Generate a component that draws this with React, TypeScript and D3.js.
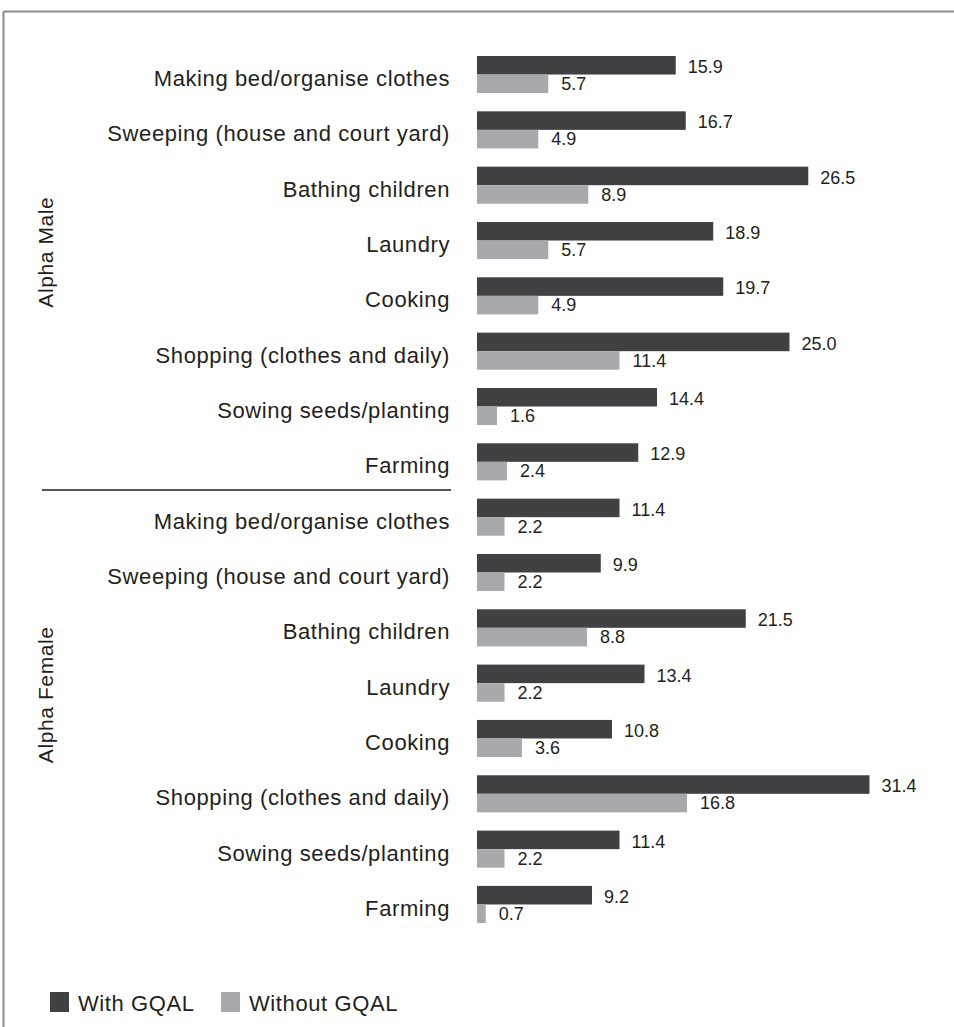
import React from "react";
import * as d3 from "d3";

const groups = ["Alpha Male", "Alpha Female"];
const activities = [
  "Making bed/organise clothes",
  "Sweeping (house and court yard)",
  "Bathing children",
  "Laundry",
  "Cooking",
  "Shopping (clothes and daily)",
  "Sowing seeds/planting",
  "Farming",
];
const maleWith = [15.9, 16.7, 26.5, 18.9, 19.7, 25.0, 14.4, 12.9];
const maleWithout = [5.7, 4.9, 8.9, 5.7, 4.9, 11.4, 1.6, 2.4];
const femaleWith = [11.4, 9.9, 21.5, 13.4, 10.8, 31.4, 11.4, 9.2];
const femaleWithout = [2.2, 2.2, 8.8, 2.2, 3.6, 16.8, 2.2, 0.7];
const seriesNames = ["With GQAL", "Without GQAL"];
const colors = ["#414042", "#a7a9ac"];

const W = 954;
const H = 1027;
const FONT = "'Liberation Sans', Arial, Helvetica, sans-serif";
const TXT = "#231f20";

type Row = { group: string; label: string; w: number; wo: number; key: string };
const rows: Row[] = [];
groups.forEach((g, gi) => {
  const wv = gi === 0 ? maleWith : femaleWith;
  const wov = gi === 0 ? maleWithout : femaleWithout;
  activities.forEach((a, i) => {
    rows.push({ group: g, label: a, w: wv[i], wo: wov[i], key: g + "|" + a });
  });
});

export default function App() {
  const y = d3
    .scaleBand<string>()
    .domain(rows.map((r) => r.key))
    .range([56, 923])
    .paddingInner(0.33)
    .paddingOuter(0);
  const inner = d3
    .scaleBand<string>()
    .domain(seriesNames)
    .range([0, y.bandwidth()])
    .padding(0);
  const x = d3.scaleLinear().domain([0, 35]).range([477, 477 + 437.5]);

  const groupExtent = (g: string) => {
    const rs = rows.filter((r) => r.group === g);
    const top = y(rs[0].key)!;
    const bot = y(rs[rs.length - 1].key)! + y.bandwidth();
    return [top, bot];
  };

  const sepY = (groupExtent(groups[0])[1] + groupExtent(groups[1])[0]) / 2 + 0.5;

  return (
    <svg
      width={W}
      height={H}
      style={{ position: "absolute", left: 0, top: 0, background: "#fff" }}
      fontFamily={FONT}
    >
      <line x1={3.5} y1={11.5} x2={W} y2={11.5} stroke="#8c8c8c" strokeWidth={2} />
      <line x1={3.5} y1={11.5} x2={3.5} y2={H} stroke="#8c8c8c" strokeWidth={2} />

      {rows.map((r) => {
        const top = y(r.key)!;
        const dTop = top + inner(seriesNames[0])!;
        const gTop = top + inner(seriesNames[1])!;
        const bh = inner.bandwidth();
        return (
          <g key={r.key}>
            <text
              x={450}
              y={top + y.bandwidth() / 2 + 11.5}
              textAnchor="end"
              fontSize={22}
              letterSpacing={0.6}
              fill={TXT}
            >
              {r.label}
            </text>
            <rect x={x(0)} y={dTop} width={x(r.w) - x(0)} height={bh} fill={colors[0]} />
            <rect x={x(0)} y={gTop} width={x(r.wo) - x(0)} height={bh} fill={colors[1]} />
            <text x={x(r.w) + 12} y={dTop + bh - 1.5} fontSize={18} fill={TXT}>
              {r.w.toFixed(1)}
            </text>
            <text x={x(r.wo) + 13} y={gTop + bh - 3} fontSize={18} fill={TXT}>
              {r.wo.toFixed(1)}
            </text>
          </g>
        );
      })}

      <line x1={42} y1={sepY} x2={451} y2={sepY} stroke="#231f20" strokeWidth={1.5} />

      {groups.map((g) => {
        const [t, b] = groupExtent(g);
        const cy = (t + b) / 2 - 16;
        return (
          <text
            key={g}
            transform={`translate(53,${cy}) rotate(-90)`}
            textAnchor="middle"
            fontSize={21}
            letterSpacing={0.6}
            fill={TXT}
          >
            {g}
          </text>
        );
      })}

      {seriesNames.map((s, i) => {
        const lx = i === 0 ? 50 : 221;
        return (
          <g key={s}>
            <rect x={lx} y={992} width={19} height={20} fill={colors[i]} />
            <text x={lx + 28} y={1011} fontSize={22} letterSpacing={0.6} fill={TXT}>
              {s}
            </text>
          </g>
        );
      })}
    </svg>
  );
}
